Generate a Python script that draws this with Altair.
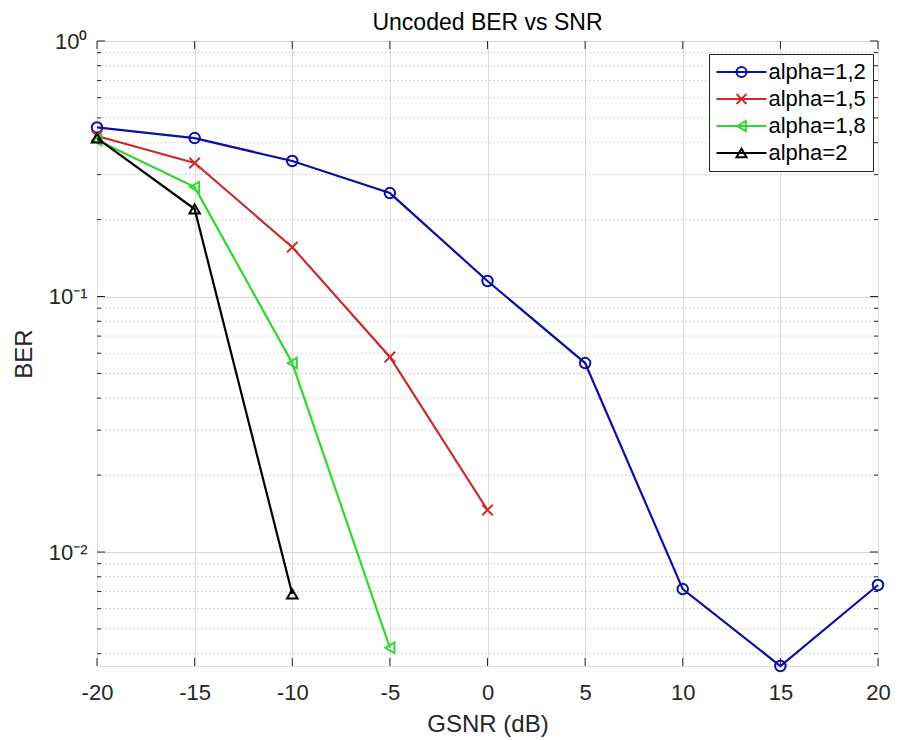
import altair as alt
import pandas as pd

series = ["alpha=1,2", "alpha=1,5", "alpha=1,8", "alpha=2"]
colors = ["#0b0fa6", "#cc2b2b", "#2fd82f", "#000000"]
shapes = ["circle", "M-1,-1L1,1M-1,1L1,-1", "triangle-left", "triangle-up"]

x_12 = [-20, -15, -10, -5, 0, 5, 10, 15, 20]
ber_12 = [0.459, 0.417, 0.339, 0.254, 0.115, 0.0549, 0.00716, 0.00358, 0.00743]
x_15 = [-20, -15, -10, -5, 0]
ber_15 = [0.425, 0.333, 0.156, 0.058, 0.0146]
x_18 = [-20, -15, -10, -5]
ber_18 = [0.41, 0.268, 0.0549, 0.00422]
x_2 = [-20, -15, -10]
ber_2 = [0.417, 0.22, 0.00685]

x_ticks = [-20, -15, -10, -5, 0, 5, 10, 15, 20]
y_major = [0.01, 0.1, 1]
y_minor = [0.004, 0.005, 0.006, 0.007, 0.008, 0.009,
           0.02, 0.03, 0.04, 0.05, 0.06, 0.07, 0.08, 0.09,
           0.2, 0.3, 0.4, 0.5, 0.6, 0.7, 0.8, 0.9]

rows = []
for name, xs, ys in [(series[0], x_12, ber_12), (series[1], x_15, ber_15),
                     (series[2], x_18, ber_18), (series[3], x_2, ber_2)]:
    for xv, yv in zip(xs, ys):
        rows.append({"series": name, "snr": xv, "ber": yv})
df = pd.DataFrame(rows)

W, H = 781, 625
FONT = "Liberation Sans"
AX = "#262626"

xscale = alt.Scale(domain=[-20, 20], nice=False, zero=False)
yscale = alt.Scale(type="log", domain=[0.00358, 1], nice=False)

xaxis = alt.Axis(values=x_ticks, grid=True, gridColor="#dedede", ticks=False, domain=False,
                 labelExpr="datum.value < 0 ? '-' + abs(datum.value) : '' + datum.value",
                 labelFlush=False, labelOverlap=False,
                 labelFont=FONT, labelFontSize=22, labelColor=AX, labelPadding=16,
                 titleFont=FONT, titleFontSize=24, titleFontWeight="normal", titleColor=AX,
                 titlePadding=9, title="GSNR (dB)")
yaxis = alt.Axis(values=y_major, grid=True, gridColor="#d6d6d6", ticks=False, domain=False,
                 labelExpr="'10' + (datum.value >= 0.5 ? '⁰' : datum.value >= 0.05 ? '⁻¹' : '⁻²')",
                 labelFlush=False, labelOverlap=False,
                 labelFont=FONT, labelFontSize=22, labelColor=AX, labelPadding=10,
                 titleFont=FONT, titleFontSize=24, titleFontWeight="normal", titleColor=AX,
                 titlePadding=12, title="BER")

X = lambda f: alt.X(f, type="quantitative", scale=xscale, axis=xaxis)
Y = lambda f: alt.Y(f, type="quantitative", scale=yscale, axis=yaxis)

color_scale = alt.Scale(domain=series, range=colors)
shape_scale = alt.Scale(domain=series, range=shapes)

df_minor = pd.DataFrame({"v": y_minor})
df_major = pd.DataFrame({"v": y_major})
df_xt = pd.DataFrame({"v": x_ticks})

minor_grid = alt.Chart(df_minor).mark_rule(color="#c4c4c4", strokeWidth=1, strokeDash=[1.5, 2.5]).encode(
    y=Y("v"), x=alt.value(0), x2=alt.value(W))

tick_layers = [
    alt.Chart(df_minor).mark_rule(color=AX, strokeWidth=1).encode(y=Y("v"), x=alt.value(0), x2=alt.value(4)),
    alt.Chart(df_minor).mark_rule(color=AX, strokeWidth=1).encode(y=Y("v"), x=alt.value(W - 4), x2=alt.value(W)),
    alt.Chart(df_major).mark_rule(color=AX, strokeWidth=1).encode(y=Y("v"), x=alt.value(0), x2=alt.value(8)),
    alt.Chart(df_major).mark_rule(color=AX, strokeWidth=1).encode(y=Y("v"), x=alt.value(W - 8), x2=alt.value(W)),
    alt.Chart(df_xt).mark_rule(color=AX, strokeWidth=1).encode(x=X("v"), y=alt.value(H - 8), y2=alt.value(H)),
    alt.Chart(df_xt).mark_rule(color=AX, strokeWidth=1).encode(x=X("v"), y=alt.value(0), y2=alt.value(8)),
]

LX, LY = 612, 13
common_leg = dict(orient="none", legendX=LX, legendY=LY, title=None, symbolSize=100,
                  symbolStrokeWidth=2, symbolOffset=14.5, labelOffset=16, labelFont=FONT,
                  labelFontSize=22, labelColor="#000000", padding=7, rowPadding=5)

lines = alt.Chart(df).mark_line(strokeWidth=2.2).encode(
    x=X("snr"), y=Y("ber"),
    color=alt.Color("series:N", scale=color_scale,
                    legend=alt.Legend(symbolType="M-5,0H5", fillColor="white",
                                      strokeColor=AX, **common_leg)),
    detail="series:N",
)

points = alt.Chart(df).mark_point(filled=False, size=110, strokeWidth=2, opacity=1).encode(
    x=X("snr"), y=Y("ber"),
    color=alt.Color("series:N", scale=color_scale,
                    legend=alt.Legend(labelOpacity=0, **common_leg)),
    shape=alt.Shape("series:N", scale=shape_scale,
                    legend=alt.Legend(labelOpacity=0, **common_leg)),
)

chart = alt.layer(minor_grid, *tick_layers, lines, points).resolve_legend(
    color="independent", shape="independent"
).properties(
    width=W, height=H, autosize="none",
    padding={"left": 89, "top": 33, "right": 17, "bottom": 74},
    title=alt.TitleParams("Uncoded BER vs SNR", font=FONT, fontSize=23, fontWeight="normal",
                          color="#000000", offset=-5, anchor="middle"),
).configure_view(stroke=AX, strokeWidth=1).configure(background="white")

chart.save("out.html", embed_options={"renderer": "svg", "actions": False})
